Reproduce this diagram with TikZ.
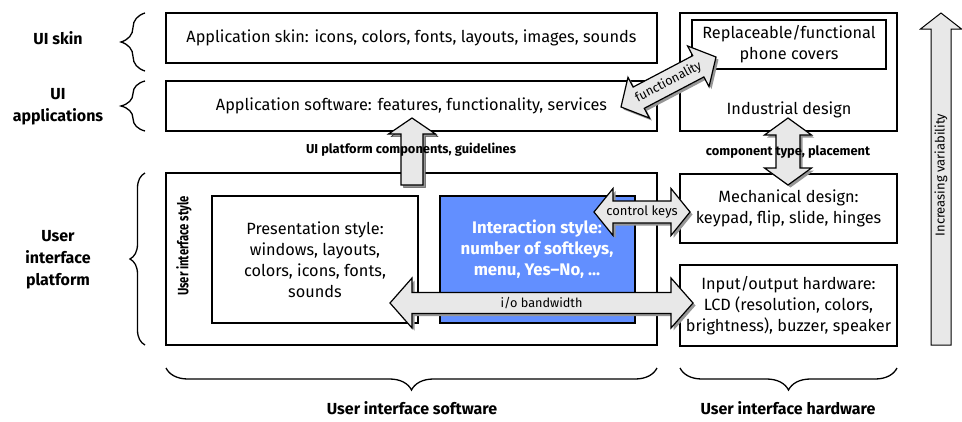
\documentclass[tikz,border=0pt]{standalone}
\usepackage{fontspec}
\usepackage{graphicx}
\setmainfont{Fira Sans}
\usetikzlibrary{calc,decorations.pathreplacing}
\definecolor{iblue}{RGB}{98,143,255}
\definecolor{afill}{RGB}{232,232,232}
\definecolor{ashadow}{RGB}{150,150,150}
% double block arrow: A, B, shaft half, head half, head length
\newcommand\dblarrow[5]{%
  \coordinate (ba1) at ($(#1)!#5!(#2)$);
  \coordinate (ba2) at ($(#2)!#5!(#1)$);
  \fill[ashadow, transform canvas={shift={(2.5pt,-2.5pt)}}] (#1) -- ($(ba1)!#4!-90:(#2)$) -- ($(ba1)!#3!-90:(#2)$) -- ($(ba2)!#3!90:(#1)$) -- ($(ba2)!#4!90:(#1)$) -- (#2) -- ($(ba2)!#4!-90:(#1)$) -- ($(ba2)!#3!-90:(#1)$) -- ($(ba1)!#3!90:(#2)$) -- ($(ba1)!#4!90:(#2)$) -- cycle;
  \draw[blockarrow] (#1) -- ($(ba1)!#4!-90:(#2)$) -- ($(ba1)!#3!-90:(#2)$) -- ($(ba2)!#3!90:(#1)$) -- ($(ba2)!#4!90:(#1)$) -- (#2) -- ($(ba2)!#4!-90:(#1)$) -- ($(ba2)!#3!-90:(#1)$) -- ($(ba1)!#3!90:(#2)$) -- ($(ba1)!#4!90:(#2)$) -- cycle;
}
% single block arrow: tail A, tip B, shaft half, head half, head length, style
\newcommand\sglarrow[6]{%
  \coordinate (hb) at ($(#2)!#5!(#1)$);
  \draw[#6] ($(#1)!#3!90:(#2)$) -- ($(hb)!#3!-90:(#1)$) -- ($(hb)!#4!-90:(#1)$) -- (#2) -- ($(hb)!#4!90:(#1)$) -- ($(hb)!#3!90:(#1)$) -- ($(#1)!#3!-90:(#2)$) -- cycle;
}
\begin{document}
\begin{tikzpicture}[x=1pt,y=-1pt,
  box/.style={draw, line width=1.3pt, inner sep=0pt, align=center},
  txt/.style={font=\fontsize{16.3}{21}\selectfont, align=center, inner sep=0pt},
  lbl/.style={font=\fontsize{16}{22}\selectfont\bfseries, align=center, inner sep=0pt},
  small/.style={font=\fontsize{12.7}{14}\selectfont, inner sep=0pt},
  smallb/.style={font=\fontsize{12.9}{14}\selectfont\bfseries, inner sep=0pt},
  blockarrow/.style={draw, fill=afill, line width=1.2pt, line join=miter},
  shadowarrow/.style={fill=ashadow, transform canvas={shift={(2.5pt,-2.5pt)}}},
  thinarrow/.style={draw, fill=afill, line width=1pt, line join=miter},
  mybrace/.style={draw, line width=1.3pt, decorate},
]
\useasboundingbox (0,0) rectangle (962,421);

% left column boxes
\node[box, txt, minimum width=491pt, minimum height=50pt] (skin) at (411.5,38)
  {Application skin: icons, colors, fonts, layouts, images, sounds};
\node[box, txt, minimum width=491pt, minimum height=50pt] (appsw) at (411.5,106)
  {Application software: features, functionality, services};
\node[box, minimum width=491pt, minimum height=172pt] (uip) at (411.5,259) {};
\node[box, txt, minimum width=206pt, minimum height=127pt] (pres) at (315,259.5)
  {Presentation style:\\windows, layouts,\\colors, icons, fonts,\\sounds};
\node[box, fill=iblue, minimum width=195pt, minimum height=127pt] (inter) at (537.5,259.5) {};

% right column boxes
\node[box, minimum width=217pt, minimum height=118pt] (indus) at (788.5,72) {};
\node[box, txt, minimum width=194pt, minimum height=49pt] (covers) at (789,44.5)
  {Replaceable/functional\\phone covers};
\node[box, txt, minimum width=217pt, minimum height=69pt] (mech) at (788.5,208.5)
  {Mechanical design:\\keypad, flip, slide, hinges};
\node[box, txt, minimum width=217pt, minimum height=81pt] (io) at (788.5,305.5)
  {Input/output hardware:\\LCD (resolution, colors,\\brightness), buzzer, speaker};

% braces
\draw[mybrace, decoration={brace, amplitude=24pt}] (145,71) -- (145,13);
\draw[mybrace, decoration={brace, amplitude=24pt}] (145,131) -- (145,81);
\draw[mybrace, decoration={brace, amplitude=15pt}] (145,345) -- (145,173);
\draw[mybrace, decoration={brace, amplitude=22pt}] (657,368) -- (166,368);
\draw[mybrace, decoration={brace, amplitude=22pt}] (897,368) -- (680,368);

% block arrows
\coordinate (upA) at (412,185); \coordinate (upB) at (412,118);
\sglarrow{upA}{upB}{11pt}{23.5pt}{16pt}{shadowarrow}
\sglarrow{upA}{upB}{11pt}{23.5pt}{16pt}{blockarrow}
\coordinate (ctA) at (788,118); \coordinate (ctB) at (788,185);
\dblarrow{ctA}{ctB}{12pt}{23.5pt}{17pt}
\coordinate (fnA) at (621,107); \coordinate (fnB) at (716,57);
\dblarrow{fnA}{fnB}{12pt}{23pt}{20pt}
\coordinate (ckA) at (594,212); \coordinate (ckB) at (690,212);
\dblarrow{ckA}{ckB}{11pt}{23.5pt}{19pt}
\coordinate (ioA) at (390,303); \coordinate (ioB) at (693,303);
\dblarrow{ioA}{ioB}{10.5pt}{25pt}{22pt}
\coordinate (ivA) at (941,345); \coordinate (ivB) at (941,13);
\sglarrow{ivA}{ivB}{10pt}{20.5pt}{16pt}{thinarrow}

% texts
\node[lbl, rotate=90, font=\fontsize{15}{16}\selectfont\bfseries] (uistyle) at (184,246) {\scalebox{0.75}[1]{User interface style}};
\node[lbl, text=white, font=\fontsize{16.8}{21}\selectfont\bfseries] (intertxt) at (537,249) {Interaction style:\\number of softkeys,\\menu, Yes–No, ...};
\node[txt] (indtxt) at (789,110) {Industrial design};
\node[smallb] (uipc) at (411,150) {UI platform components, guidelines};
\node[smallb] (ctp) at (788,152) {component type, placement};
\path (fnA) -- node[small, sloped] (fntxt) {functionality} (fnB);
\path (ckA) -- node[small, font=\fontsize{13}{14}\selectfont] (cktxt) {control keys} (ckB);
\path (ioA) -- node[small] (iotxt) {i/o bandwidth} (ioB);
\node[small, rotate=90, font=\fontsize{13}{14}\selectfont] (ivtxt) at (941,175) {Increasing variability};

\node[lbl] (lskin) at (58,38) {UI skin};
\node[lbl] (lapps) at (58,107) {UI\\applications};
\node[lbl] (lplat) at (58,260) {User\\interface\\platform};
\node[lbl] (lsw) at (412,408) {User interface software};
\node[lbl] (lhw) at (788,408) {User interface hardware};
\end{tikzpicture}
\end{document}
